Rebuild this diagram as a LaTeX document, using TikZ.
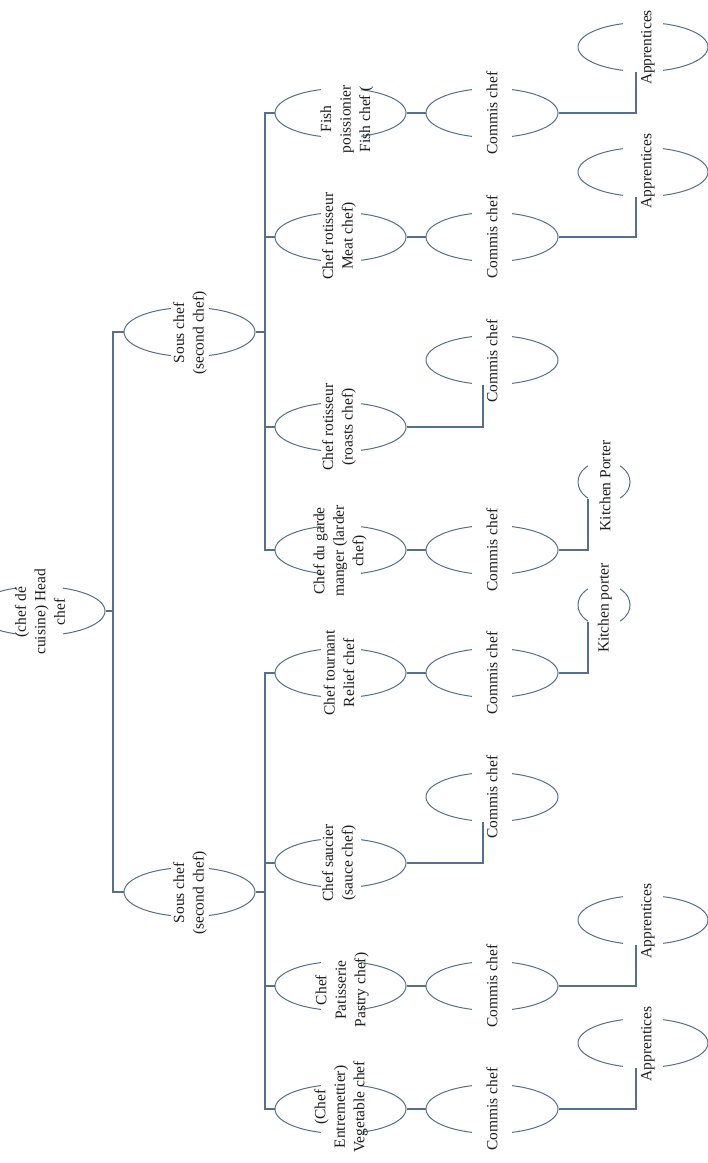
\documentclass[tikz,border=0pt]{standalone}
\usepackage{fontspec}
\setmainfont{Liberation Serif}
\usetikzlibrary{shapes.geometric,calc}
\definecolor{linec}{RGB}{84,112,140}
\definecolor{textc}{RGB}{30,30,30}
% #1 name, #2 cx, #3 cy, #4 width, #5 height, #6 gap half width, #7 text x, #8 text y, #9 text
\newcommand\chefnode[9]{%
  \node[ell, minimum width=#4pt, minimum height=#5pt] (#1) at (#2,#3) {};
  \fill[white] ($(#1.center)+(-#6,-32)$) rectangle ($(#1.center)+(#6,32)$);
  \node[lbl] (#1t) at (#7,#8) {#9};
}
\begin{document}
\begin{tikzpicture}[x=1pt, y=-1pt,
  ell/.style={ellipse, draw=linec, line width=1pt, inner sep=0pt},
  lbl/.style={rotate=90, align=center, font=\fontsize{15.5}{19.5}\selectfont, text=textc, inner sep=0pt},
  conn/.style={draw=linec, line width=1.1pt}]
\useasboundingbox[fill=white] (0,0) rectangle (708,1163);

% head chef and sous chefs
\chefnode{head}{39.5}{611}{131}{49}{23}{40}{612}{(chef dé\\cuisine) Head\\chef}
\chefnode{sc1}{189.5}{332}{131}{49}{19}{190}{333}{Sous chef\\(second chef)}
\chefnode{sc2}{189.5}{892}{131}{49}{19}{190}{893}{Sous chef\\(second chef)}

% level 2
\chefnode{fish}{340.5}{113}{131}{49}{20}{347}{119}{Fish\\poissionier\\Fish chef (}
\chefnode{meat}{340.5}{237}{131}{49}{20}{339}{236}{Chef rotisseur\\Meat chef)}
\chefnode{roast}{340.5}{427}{131}{49}{20}{339}{427}{Chef rotisseur\\(roasts chef)}
\chefnode{garde}{340.5}{550}{131}{49}{20}{340}{551}{Chef du garde\\manger (larder\\chef)}
\chefnode{tour}{340.5}{673}{131}{49}{20}{339}{673}{Chef tournant\\Relief chef}
\chefnode{sauce}{340.5}{863}{131}{49}{20}{339}{863}{Chef saucier\\(sauce chef)}
\chefnode{pat}{340.5}{986}{131}{49}{20}{342}{990}{Chef\\Patisserie\\Pastry chef)}
\chefnode{veg}{340.5}{1109}{131}{49}{20}{341}{1107}{(Chef\\Entremettier)\\Vegetable chef}

% commis chefs
\chefnode{cfish}{492}{113}{132}{49}{20}{492}{113}{Commis chef}
\chefnode{cmeat}{492}{237}{132}{49}{20}{492}{237}{Commis chef}
\chefnode{croast}{492}{360}{132}{49}{20}{492}{361}{Commis chef}
\chefnode{cgarde}{492}{550}{132}{49}{20}{492}{550}{Commis chef}
\chefnode{ctour}{492}{673}{132}{49}{20}{492}{673}{Commis chef}
\chefnode{csauce}{492}{797}{132}{49}{20}{492}{797}{Commis chef}
\chefnode{cpat}{492}{986}{132}{49}{20}{492}{986}{Commis chef}
\chefnode{cveg}{492}{1109}{132}{49}{20}{492}{1109}{Commis chef}

% apprentices and porters
\chefnode{afish}{643}{47}{130}{49}{20}{648}{47.5}{Apprentices}
\chefnode{ameat}{643}{172}{130}{49}{20}{648}{171}{Apprentices}
\chefnode{apat}{643}{920}{130}{49}{20}{648}{921}{Apprentices}
\chefnode{aveg}{643}{1043}{130}{49}{20}{648}{1044}{Apprentices}
\chefnode{kp1}{604}{482}{52}{41}{16}{605}{486}{Kitchen Porter}
\chefnode{kp2}{604}{605}{52}{41}{16}{605}{608}{Kitchen porter}

% connectors: head to sous chefs
\coordinate (b1) at (113,611);
\coordinate (b2) at (265,0);
\draw[conn] (head.east) -- (b1);
\draw[conn] (sc1.west) -- (sc1.west -| b1) -- (sc2.west -| b1) -- (sc2.west);

% sous chefs to level 2
\draw[conn] (fish.west) -- (fish.west -| b2) -- (garde.west -| b2) -- (garde.west);
\draw[conn] (meat.west) -- (meat.west -| b2);
\draw[conn] (roast.west) -- (roast.west -| b2);
\draw[conn] (sc1.east) -- (sc1.east -| b2);
\draw[conn] (tour.west) -- (tour.west -| b2) -- (veg.west -| b2) -- (veg.west);
\draw[conn] (sauce.west) -- (sauce.west -| b2);
\draw[conn] (pat.west) -- (pat.west -| b2);
\draw[conn] (sc2.east) -- (sc2.east -| b2);

% level 2 to commis
\draw[conn] (fish.east) -- (cfish.west);
\draw[conn] (meat.east) -- (cmeat.west);
\draw[conn] (garde.east) -- (cgarde.west);
\draw[conn] (tour.east) -- (ctour.west);
\draw[conn] (pat.east) -- (cpat.west);
\draw[conn] (veg.east) -- (cveg.west);
\draw[conn] (roast.east) -| ($(croast.south)+(-9,0)$);
\draw[conn] (sauce.east) -| ($(csauce.south)+(-9,0)$);

% commis to apprentices / porters
\draw[conn] (cfish.east) -| ($(afish.south)+(-7,0)$);
\draw[conn] (cmeat.east) -| ($(ameat.south)+(-7,0)$);
\draw[conn] (cpat.east) -| ($(apat.south)+(-7,0)$);
\draw[conn] (cveg.east) -| ($(aveg.south)+(-7,0)$);
\draw[conn] (cgarde.east) -| ($(kp1.center)+(-16,17)$);
\draw[conn] (ctour.east) -| ($(kp2.center)+(-16,17)$);
\end{tikzpicture}
\end{document}
